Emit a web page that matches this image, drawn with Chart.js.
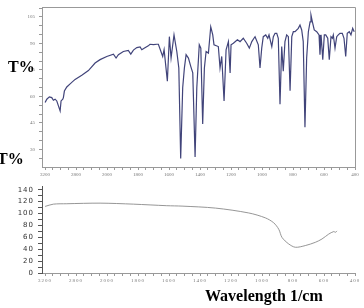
<!DOCTYPE html>
<html lang="en">
<head>
<meta charset="utf-8">
<title>IR spectra</title>
<script src="https://cdn.jsdelivr.net/npm/chart.js@4.4.1/dist/chart.umd.min.js"></script>
<style>
  body { margin: 0; background: #fff; width: 364px; height: 308px; overflow: hidden; position: relative; }
  canvas { position: absolute; left: 0; }
  #topChart { top: 0; }
  #bottomChart { top: 178px; }
  .lbl { position: absolute; font-family: "Liberation Serif", serif; font-weight: bold; color: #000; line-height: 1; white-space: nowrap; }
</style>
</head>
<body>

<canvas id="topChart" width="364" height="180"></canvas>
<canvas id="bottomChart" width="364" height="112"></canvas>
<div class="lbl" style="left:8px; top:59px; font-size:16px;">T%</div>
<div class="lbl" style="left:-3px; top:151px; font-size:16px;">T%</div>
<div class="lbl" style="left:205px; top:288px; font-size:16px;">Wavelength 1/cm</div>

<script>
// axis labels, evenly spaced as in the scan
const xTickLabels = [3200, 2800, 2000, 1800, 1600, 1400, 1200, 1000, 800, 600, 400];
const topYTicks = [30, 45, 60, 75, 90, 105];
const bottomYTicks = [0, 20, 40, 60, 80, 100, 120, 140];

// upper spectrum (sample)
const sampleWavenumbers = [
  3200, 3178, 3145, 3114, 3093, 3071, 3049, 3028, 3006, 2994, 2972, 2964, 2951, 2920, 2877, 2813,
  2653, 2482, 2310, 2181, 2008, 1959, 1942, 1927, 1895, 1863, 1847, 1830, 1808, 1787, 1776, 1761,
  1734, 1723, 1701, 1679, 1669, 1641, 1632, 1611, 1598, 1587, 1568, 1550, 1537, 1525, 1512, 1501,
  1490, 1475, 1460, 1447, 1432, 1421, 1405, 1395, 1383, 1372, 1361, 1346, 1331, 1318, 1310, 1282,
  1271, 1260, 1245, 1232, 1217, 1206, 1200, 1185, 1159, 1142, 1121, 1099, 1082, 1066, 1052, 1045,
  1024, 1013, 1002, 992, 976, 963, 955, 937, 927, 916, 905, 895, 884, 873, 863, 852,
  841, 830, 819, 808, 798, 787, 766, 755, 744, 734, 723, 712, 701, 690, 684, 675,
  663, 647, 632, 626, 619, 608, 598, 589, 576, 566, 555, 546, 540, 529, 518, 508,
  497, 482, 471, 460, 450, 437, 426, 415, 405
];
const sampleT = [
  56.5, 58.4, 59.7, 59.3, 57.8, 58.4, 57.4, 54.6, 51.8, 57.4, 58.4, 59.3, 63.0, 65.3, 67.1, 69.6,
  72.0, 74.6, 78.9, 80.8, 82.6, 83.9, 81.7, 83.6, 85.4, 86.0, 83.9, 86.2, 87.6, 88.0, 86.4, 87.3,
  88.6, 89.5, 89.3, 89.5, 89.5, 82.6, 86.4, 68.6, 93.8, 81.7, 94.8, 85.4, 76.1, 24.8, 64.9, 76.1,
  83.6, 81.7, 77.0, 73.3, 25.7, 64.9, 89.2, 87.3, 44.4, 76.1, 85.4, 84.5, 99.4, 94.8, 89.2, 88.2,
  76.1, 82.6, 57.4, 86.4, 91.0, 73.3, 89.2, 90.1, 92.0, 91.0, 92.9, 90.1, 87.3, 91.0, 92.9, 93.8,
  89.2, 76.1, 87.3, 93.8, 94.8, 92.9, 94.8, 88.2, 93.8, 95.7, 95.7, 92.9, 55.6, 88.2, 74.2, 91.0,
  94.8, 93.8, 63.2, 93.8, 96.6, 96.6, 98.5, 100.4, 97.6, 91.0, 42.5, 81.7, 96.6, 102.2, 106.0, 102.2,
  97.6, 96.6, 94.8, 83.6, 94.8, 80.8, 94.8, 94.8, 92.9, 80.8, 93.8, 92.9, 94.8, 87.3, 93.8, 94.8,
  95.7, 95.7, 92.9, 82.6, 95.7, 96.6, 94.8, 98.5, 96.6
];

// lower spectrum (reference)
const blankWavenumbers = [3200, 3093, 2920, 2181, 1830, 1615, 1516, 1301, 1086, 979, 925, 892, 871, 828, 785, 721, 656, 613, 570, 537, 526, 516];
const blankT = [112, 115.8, 116.5, 117.5, 115.8, 113.2, 112.5, 109.2, 101, 92.8, 84.5, 73.6, 59.8, 48.9, 43.3, 46.1, 51.6, 57.2, 65.4, 69.7, 68.5, 70.8];

// wavenumber -> position along the evenly spaced tick labels
function toAxisPos(wn) {
  for (let i = 0; i < xTickLabels.length - 1; i++) {
    const a = xTickLabels[i], b = xTickLabels[i + 1];
    if (wn <= a && wn >= b) return i + (a - wn) / (a - b);
  }
  return wn > xTickLabels[0] ? 0 : xTickLabels.length - 1;
}

function toPoints(xs, ys) {
  return xs.map((wn, i) => ({ x: toAxisPos(wn), y: ys[i] }));
}

function xTicks() {
  const t = [];
  for (let v = 0; v <= 40; v++) t.push({ value: v / 4 });
  return t;
}

function xScale(height, fontSize) {
  return {
    type: "linear",
    min: -0.1,
    max: 10,
    afterBuildTicks: (axis) => { axis.ticks = xTicks(); },
    afterFit: (axis) => { axis.height = height; },
    grid: { drawOnChartArea: false, drawTicks: true, tickLength: 3, color: "#999" },
    border: { color: "#999", width: 1 },
    ticks: {
      autoSkip: false,
      maxRotation: 0,
      padding: 2,
      color: "#777",
      font: { family: "Liberation Serif", size: fontSize },
      callback: (v) => (Number.isInteger(v) ? String(xTickLabels[v]) : ""),
    },
  };
}

// grey frame on top and right of the upper plot
const framePlugin = {
  id: "frame",
  afterDraw(chart) {
    const { ctx, chartArea: a } = chart;
    ctx.save();
    ctx.strokeStyle = "#999";
    ctx.lineWidth = 1;
    ctx.beginPath();
    ctx.moveTo(a.left, a.top + 0.5);
    ctx.lineTo(a.right + 0.5, a.top + 0.5);
    ctx.lineTo(a.right + 0.5, a.bottom);
    ctx.stroke();
    ctx.restore();
  },
};

// the lower plot's numbers are printed wide in the scan
const wideText = {
  id: "wideText",
  beforeDraw(chart) { chart.ctx.letterSpacing = "1px"; },
};

new Chart(document.getElementById("topChart"), {
  type: "line",
  data: {
    datasets: [{
      data: toPoints(sampleWavenumbers, sampleT),
      borderColor: "#41447a",
      borderWidth: 1.2,
      pointRadius: 0,
      tension: 0,
    }],
  },
  options: {
    responsive: false,
    animation: false,
    layout: { padding: { top: 5, right: 9, left: 0, bottom: 0 } },
    plugins: { legend: { display: false }, tooltip: { enabled: false } },
    scales: {
      x: xScale(13, 5),
      y: {
        min: 20,
        max: 110.6,
        afterBuildTicks: (axis) => {
          const t = [];
          for (let v = 25; v <= 110; v += 5) t.push({ value: v });
          axis.ticks = t;
        },
        afterFit: (axis) => { axis.width = 42; },
        grid: { drawOnChartArea: false, tickLength: 3, color: "#999" },
        border: { color: "#999", width: 1 },
        ticks: {
          autoSkip: false,
          padding: 4,
          color: "#777",
          font: { family: "Liberation Serif", size: 5 },
          callback: (v) => (topYTicks.includes(v) ? String(v) : ""),
        },
      },
    },
  },
  plugins: [framePlugin],
});

new Chart(document.getElementById("bottomChart"), {
  type: "line",
  data: {
    datasets: [{
      data: toPoints(blankWavenumbers, blankT),
      borderColor: "#8a8a8a",
      borderWidth: 0.9,
      pointRadius: 0,
      tension: 0.3,
    }],
  },
  options: {
    responsive: false,
    animation: false,
    layout: { padding: { top: 7, right: 9, left: 0, bottom: 0 } },
    plugins: { legend: { display: false }, tooltip: { enabled: false } },
    scales: {
      x: xScale(17, 5),
      y: {
        min: 0,
        max: 146,
        afterBuildTicks: (axis) => {
          const t = [];
          for (let v = 0; v <= 140; v += 10) t.push({ value: v });
          axis.ticks = t;
        },
        afterFit: (axis) => { axis.width = 42; },
        grid: { drawOnChartArea: false, tickLength: 4, color: "#555" },
        border: { color: "#555", width: 1 },
        ticks: {
          autoSkip: false,
          padding: 4,
          color: "#333",
          font: { family: "DejaVu Sans", size: 7 },
          callback: (v) => (bottomYTicks.includes(v) ? String(v) : ""),
        },
      },
    },
  },
  plugins: [wideText],
});
</script>
</body>
</html>
